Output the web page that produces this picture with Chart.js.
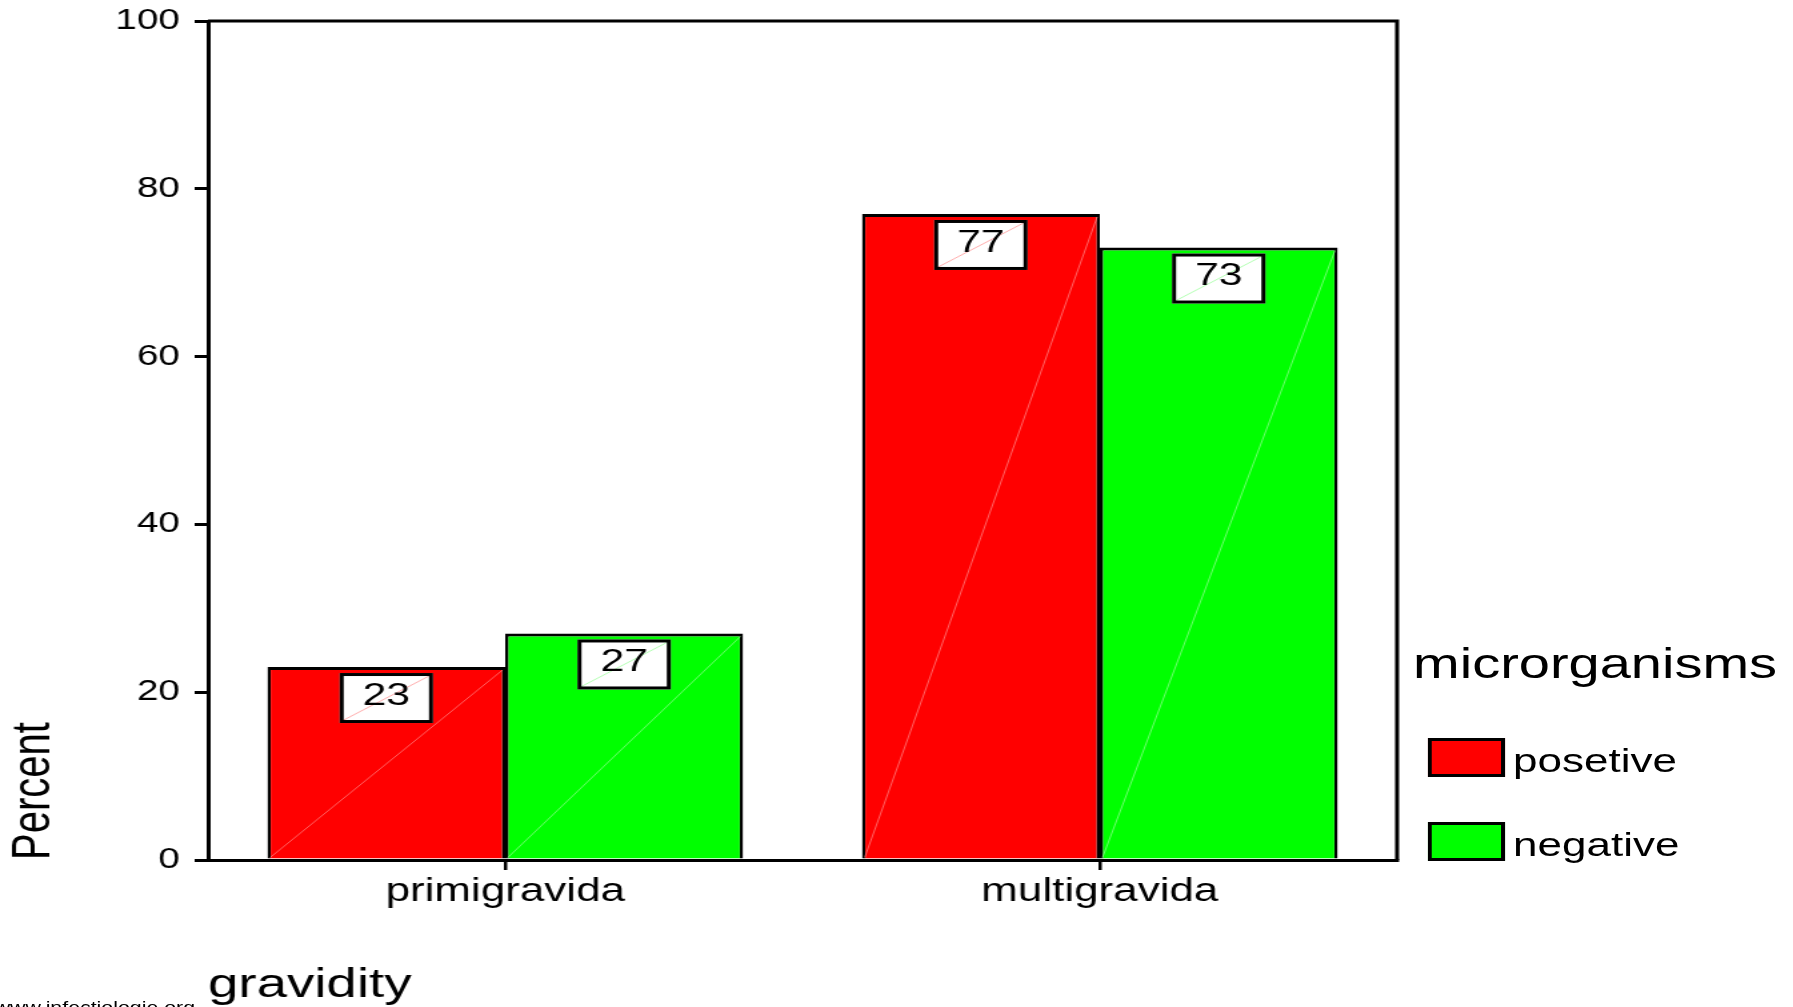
<!DOCTYPE html>
<html>
<head>
<meta charset="utf-8">
<title>gravidity</title>
<script src="https://cdn.jsdelivr.net/npm/chart.js@4.4.1/dist/chart.umd.min.js"></script>
<style>
  html, body { margin: 0; padding: 0; background: #fff; overflow: hidden; }
  /* the whole figure is drawn narrow and widened, like the original export */
  #wrap {
    position: absolute; left: 0; top: 0;
    width: 1345px; height: 1007px;
    transform: scaleX(1.33309); transform-origin: 0 0;
    font-family: "Liberation Sans", Arial, sans-serif; color: #000;
  }
  #chart-gravidity { position: absolute; left: 0; top: 0; }
  #legend-title {
    position: absolute; left: 1060px; top: 643px;
    font-size: 42px; line-height: 42px; white-space: nowrap;
  }
  #legend-gravidity ul { list-style: none; margin: 0; padding: 0; }
  #legend-gravidity li {
    position: absolute; left: 1071px; height: 39px;
    font-size: 33px; line-height: 39px; white-space: nowrap;
  }
  #legend-gravidity li span {
    position: absolute; left: 0; top: 0; width: 58px; height: 39px;
    box-sizing: border-box; border: 3px solid #000;
  }
  #legend-gravidity li em { font-style: normal; position: absolute; left: 64px; top: 3px; }
  .site {
    position: absolute; left: -4px; top: 1000px;
    font-size: 16px; line-height: 16px; white-space: nowrap;
  }
</style>
</head>
<body>
<div id="wrap">
  <canvas id="chart-gravidity" width="1345" height="1007"></canvas>
  <div id="legend-title">microrganisms</div>
  <div id="legend-gravidity"></div>
  <div class="site">www.infectiologie.org</div>
</div>
<script>
let gravidityLabels = ["primigravida", "multigravida"];
let seriesNames = ["posetive", "negative"];
let posetiveValues = [23, 77];
let negativeValues = [27, 73];
let percentTicks = [0, 20, 40, 60, 80, 100];

let barColors = ["#ff0000", "#00ff00"];
let seamColors = ["rgba(255,140,140,0.7)", "rgba(150,255,150,0.7)"];
let fontFamily = "'Liberation Sans', Arial, sans-serif";

let gravidityData = {
  labels: gravidityLabels,
  datasets: [
    {
      label: seriesNames[0],
      data: posetiveValues,
      backgroundColor: barColors[0],
    },
    {
      label: seriesNames[1],
      data: negativeValues,
      backgroundColor: barColors[1],
    },
  ],
};

// top and right sides of the plot frame
let frameBox = {
  id: "frameBox",
  beforeDatasetsDraw: function (chart) {
    let a = chart.chartArea;
    let ctx = chart.ctx;
    ctx.save();
    ctx.strokeStyle = "#000";
    ctx.lineWidth = 3;
    ctx.beginPath();
    ctx.moveTo(a.left, a.top);
    ctx.lineTo(a.right, a.top);
    ctx.lineTo(a.right, a.bottom);
    ctx.stroke();
    ctx.restore();
  },
};

// boxed value under the top of every bar
let valueBoxes = {
  id: "valueBoxes",
  afterDatasetsDraw: function (chart) {
    let ctx = chart.ctx;
    ctx.save();
    chart.data.datasets.forEach(function (ds, di) {
      chart.getDatasetMeta(di).data.forEach(function (bar, i) {
        let p = bar.getProps(["x", "y", "base", "width"], true);
        let left = p.x - p.width / 2;
        let right = p.x + p.width / 2;

        ctx.strokeStyle = seamColors[di];
        ctx.lineWidth = 1;
        ctx.beginPath();
        ctx.moveTo(left + 2, p.base - 1);
        ctx.lineTo(right - 2, p.y + 3);
        ctx.stroke();

        let w = 70;
        let h = 50;
        let top = p.y + 6;
        ctx.fillStyle = "#fff";
        ctx.fillRect(p.x - w / 2, top, w, h);
        ctx.strokeStyle = seamColors[di];
        ctx.beginPath();
        ctx.moveTo(p.x - w / 2 + 3, top + h - 3);
        ctx.lineTo(p.x + w / 2 - 3, top + 3);
        ctx.stroke();
        ctx.strokeStyle = "#000";
        ctx.lineWidth = 3;
        ctx.strokeRect(p.x - w / 2 + 1.5, top + 1.5, w - 3, h - 3);

        ctx.fillStyle = "#000";
        ctx.font = "32px " + fontFamily;
        ctx.textAlign = "center";
        ctx.textBaseline = "middle";
        ctx.fillText(String(ds.data[i]), p.x, top + 23);
      });
    });
    ctx.restore();
  },
};

let customLegend = function (chart) {
  let ul = document.createElement("ul");
  chart.data.datasets.forEach(function (ds, index) {
    ul.innerHTML += `<li style="top: ${738 + index * 84}px"><span style="background-color: ${ds.backgroundColor}"></span><em>${ds.label}</em></li>`;
  });
  return ul.outerHTML;
};

let chartDraw = function () {
  Chart.defaults.color = "#000";
  Chart.defaults.font.family = fontFamily;

  let ctx = document.getElementById("chart-gravidity").getContext("2d");

  let chart = new Chart(ctx, {
    type: "bar",
    data: gravidityData,
    plugins: [frameBox, valueBoxes],
    options: {
      responsive: false,
      animation: false,
      events: [],
      layout: {
        padding: { top: 21, right: 297, bottom: 0, left: 0 },
      },
      datasets: {
        bar: {
          categoryPercentage: 0.8,
          barPercentage: 1.0,
          borderColor: "#000",
          borderWidth: { top: 3, left: 2.5, right: 2.5, bottom: 0 },
        },
      },
      plugins: {
        legend: { display: false },
        tooltip: { enabled: false },
      },
      scales: {
        x: {
          afterFit: function (scale) {
            scale.height = 147;
          },
          grid: {
            offset: false,
            drawOnChartArea: false,
            drawTicks: true,
            tickLength: 10,
            color: "#000",
            lineWidth: 2.5,
          },
          border: { color: "#000", width: 3 },
          ticks: { font: { size: 33 }, padding: 2 },
          title: {
            display: true,
            text: "gravidity",
            align: "start",
            font: { size: 41, lineHeight: 1 },
            padding: { top: 0, bottom: 1 },
          },
        },
        y: {
          min: 0,
          max: 100,
          afterFit: function (scale) {
            scale.width = 156;
            // keep the "100" label from pushing the plot down
            scale.paddingTop = 0;
            scale.paddingBottom = 0;
          },
          afterBuildTicks: function (scale) {
            scale.ticks = percentTicks.map(function (v) {
              return { value: v };
            });
          },
          grid: {
            drawOnChartArea: false,
            drawTicks: true,
            tickLength: 10,
            color: "#000",
            lineWidth: 3,
          },
          border: { color: "#000", width: 3 },
          ticks: { font: { size: 29 }, padding: 11 },
          title: {
            display: true,
            text: "Percent",
            align: "start",
            font: { size: 40 },
            padding: { top: 2, bottom: 0 },
          },
        },
      },
    },
  });

  document.getElementById("legend-gravidity").innerHTML = customLegend(chart);
};

window.onload = function () {
  chartDraw();
};
</script>
</body>
</html>
